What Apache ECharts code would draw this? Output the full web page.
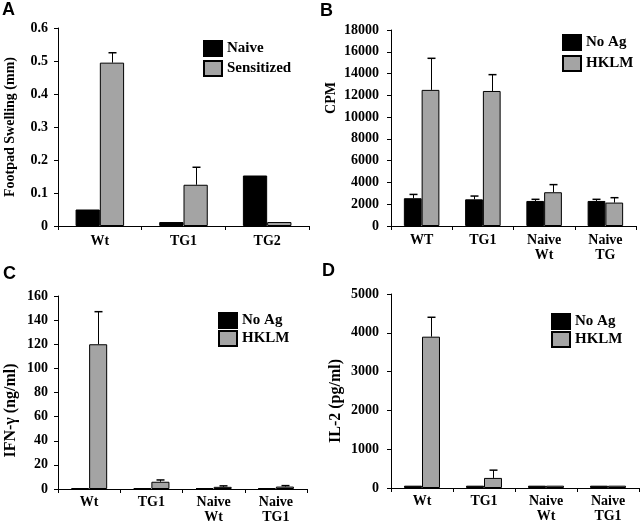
<!DOCTYPE html>
<html>
<head>
<meta charset="utf-8">
<script src="https://cdn.jsdelivr.net/npm/echarts@6/dist/echarts.min.js"></script>
<style>html,body{margin:0;padding:0;background:#fff}#c{width:640px;height:525px}</style>
</head>
<body>
<div id="c"></div>
<script>
// ---- data ----
const catsA = ['Wt', 'TG1', 'TG2'];
const naiveA = [0.05, 0.012, 0.153];
const sensA = [0.495, 0.125, 0.012];
const sensErrA = [0.525, 0.178, null];

const catsB = ['WT', 'TG1', 'Naive\nWt', 'Naive\nTG'];
const noAgB = [2550, 2450, 2300, 2300];
const noAgErrB = [2900, 2750, 2450, 2450];
const hklmB = [12500, 12400, 3100, 2150];
const hklmErrB = [15400, 13900, 3800, 2600];

const catsC = ['Wt', 'TG1', 'Naive\nWt', 'Naive\nTG1'];
const noAgC = [0.8, 0.8, 0.8, 0.8];
const hklmC = [120, 6, 1.8, 2];
const hklmErrC = [147, 7.5, 2.6, 2.8];

const catsD = ['Wt', 'TG1', 'Naive\nWt', 'Naive\nTG1'];
const noAgD = [60, 60, 60, 60];
const hklmD = [3900, 260, 60, 60];
const hklmErrD = [4400, 460, null, null];

// ---- style ----
const FONT = 'Liberation Serif';
const GRAY = '#a4a4a4';
const BAR_FRAC = 0.29;

const grids = [
  {left: 58, top: 28, width: 251, height: 198},
  {left: 391, top: 30, width: 245, height: 196},
  {left: 58, top: 296, width: 249, height: 194},
  {left: 391, top: 294, width: 248, height: 194}
];

function xAx(i, cats, margin) {
  return {
    type: 'category', gridIndex: i, data: cats,
    axisLine: {lineStyle: {color: '#000', width: 1}},
    axisTick: {show: true, length: 4, lineStyle: {color: '#000'}},
    axisLabel: {color: '#000', fontFamily: FONT, fontWeight: 'bold', fontSize: 14, margin: margin, lineHeight: 15}
  };
}
function yAx(i, max, interval, name, gap, margin, nameSize, namePad) {
  return {
    type: 'value', gridIndex: i, min: 0, max: max, interval: interval,
    name: name, nameLocation: 'middle', nameGap: gap,
    nameTextStyle: {color: '#000', fontFamily: FONT, fontWeight: 'bold', fontSize: nameSize, padding: namePad},
    splitLine: {show: false},
    axisLine: {show: true, lineStyle: {color: '#000', width: 1}},
    axisTick: {show: true, length: 4, lineStyle: {color: '#000'}},
    axisLabel: {color: '#000', fontFamily: FONT, fontWeight: 'bold', fontSize: 14, margin: margin,
      formatter: function (v) { return String(v); }}
  };
}

function barSeries(name, i, data, color) {
  return {
    type: 'bar', name: name, xAxisIndex: i, yAxisIndex: i, data: data,
    barWidth: (BAR_FRAC * 100) + '%', barGap: '0%',
    itemStyle: {color: color, borderColor: '#000', borderWidth: 1},
    emphasis: {disabled: true}, animation: false
  };
}

function errSeries(i, vals, errs, side) {
  const d = [];
  vals.forEach((v, k) => { if (errs[k] != null) d.push([k, v, errs[k]]); });
  return {
    type: 'custom', name: 'err' + i + side, xAxisIndex: i, yAxisIndex: i, data: d, z: 5,
    animation: false, silent: true,
    renderItem: function (params, api) {
      const x = api.value(0), v = api.value(1), e = api.value(2);
      const base = api.coord([x, v]);
      const top = api.coord([x, e]);
      const band = api.size([1, 0])[0];
      const cx = Math.round(base[0] + side * band * BAR_FRAC / 2) + 0.5;
      const half = 4;
      return {type: 'group', children: [
        {type: 'line', shape: {x1: cx, y1: base[1], x2: cx, y2: top[1]}, style: {stroke: '#000', lineWidth: 1}},
        {type: 'line', shape: {x1: cx - half, y1: top[1], x2: cx + half, y2: top[1]}, style: {stroke: '#000', lineWidth: 1.5}}
      ]};
    }
  };
}

function legend(names, left, top, gap) {
  return {
    data: names, left: left, top: top, orient: 'vertical', padding: 0,
    itemWidth: 18, itemHeight: 15, itemGap: gap,
    icon: 'rect',
    textStyle: {color: '#000', fontFamily: FONT, fontWeight: 'bold', fontSize: 15},
    selectedMode: false
  };
}

const panelTitle = (t, l, tp) => ({text: t, left: l, top: tp, textStyle: {fontFamily: 'Liberation Sans', fontWeight: 'bold', fontSize: 18, color: '#000'}, padding: 0});

const option = {
  animation: false,
  backgroundColor: '#fff',
  title: [panelTitle('A', 2, 1), panelTitle('B', 320, 2), panelTitle('C', 3, 265), panelTitle('D', 322, 262)],
  grid: grids,
  legend: [
    legend(['Naive', 'Sensitized'], 203, 40, 3),
    legend(['No Ag', 'HKLM'], 562, 34, 4),
    legend(['No Ag', 'HKLM'], 218, 312, 1),
    legend(['No Ag', 'HKLM'], 551, 313, 1)
  ],
  xAxis: [xAx(0, catsA, 8), xAx(1, catsB, 7), xAx(2, catsC, 6), xAx(3, catsD, 6)],
  yAxis: [
    yAx(0, 0.6, 0.1, 'Footpad Swelling (mm)', 41, 10, 14, 0),
    yAx(1, 18000, 2000, 'CPM', 53, 12, 14, [0, 0, 0, 60]),
    yAx(2, 160, 20, 'IFN-γ (ng/ml)', 39, 10, 16, [0, 36, 0, 0]),
    yAx(3, 5000, 1000, 'IL-2 (pg/ml)', 47, 12, 16, [0, 20, 0, 0])
  ],
  series: [
    barSeries('Naive', 0, naiveA, '#000'),
    barSeries('Sensitized', 0, sensA, GRAY),
    errSeries(0, sensA, sensErrA, 1),

    barSeries('No Ag', 1, noAgB, '#000'),
    barSeries('HKLM', 1, hklmB, GRAY),
    errSeries(1, noAgB, noAgErrB, -1),
    errSeries(1, hklmB, hklmErrB, 1),

    barSeries('No Ag', 2, noAgC, '#000'),
    barSeries('HKLM', 2, hklmC, GRAY),
    errSeries(2, hklmC, hklmErrC, 1),

    barSeries('No Ag', 3, noAgD, '#000'),
    barSeries('HKLM', 3, hklmD, GRAY),
    errSeries(3, hklmD, hklmErrD, 1)
  ]
};

const chart = echarts.init(document.getElementById('c'), null, {renderer: 'canvas'});
chart.setOption(option);
</script>
</body>
</html>
